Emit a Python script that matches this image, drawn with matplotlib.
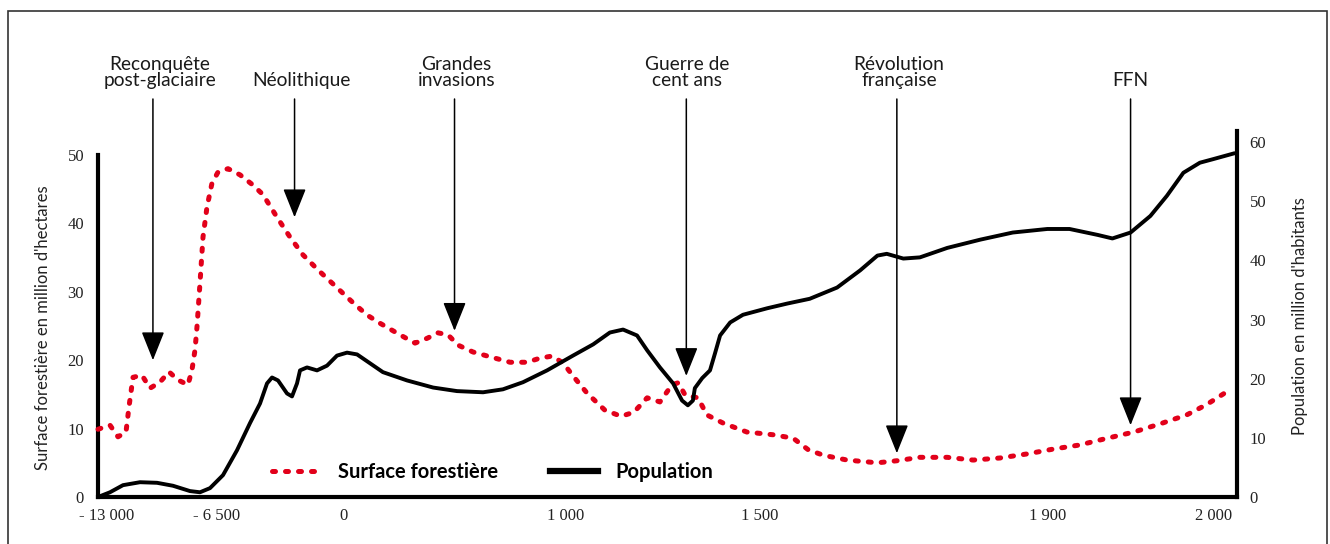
import numpy as np
import matplotlib
matplotlib.use("Agg")
import matplotlib.pyplot as plt
import matplotlib.transforms as mtransforms
from matplotlib.lines import Line2D
from matplotlib.patches import Rectangle

# ---------------- data ----------------
TICK_YEARS = [-13000, -6500, 0, 1000, 1500, 1900, 2000]
TICK_LABELS = ["- 13 000", "- 6 500", "0", "1 000", "1 500", "1 900", "2 000"]

FOREST_YEARS = [-13000, -12345, -11908, -11471, -11307, -11088, -10597, -10160, -9614, -9122,
                -8630, -8084, -7866, -7702, -7593, -7429, -7265, -7047, -6773, -6448,
                -5933, -5314, -4643, -4127, -3405, -2734, -2064, -1290, -310, 45,
                108, 166, 256, 323, 377, 426, 471, 516, 583, 659,
                749, 825, 883, 937, 987, 1018, 1054, 1100, 1142, 1175,
                1209, 1242, 1273, 1289, 1307, 1340, 1363, 1405, 1466, 1518,
                1546, 1567, 1588, 1621, 1663, 1690, 1722, 1760, 1796, 1833,
                1871, 1903, 1919, 1936, 1952, 1968, 1984, 1996, 2011]
FOREST_VALUES = [9.9, 10.5, 8.8, 9.5, 13.2, 17.5, 17.8, 15.9, 16.8, 18.3,
                 17.1, 16.4, 18.6, 21.5, 24.9, 31.3, 38.0, 42.4, 45.9, 47.5,
                 48.0, 47.1, 45.6, 44.2, 40.9, 38.0, 35.4, 33.2, 30.6, 28.4,
                 26.6, 25.4, 23.7, 22.5, 23.2, 24.0, 23.7, 22.2, 21.2, 20.5,
                 19.7, 19.7, 20.3, 20.6, 19.6, 17.7, 15.2, 12.7, 11.8, 12.4,
                 14.5, 13.9, 16.4, 16.7, 14.9, 14.5, 12.0, 10.8, 9.5, 9.1,
                 8.6, 6.9, 6.1, 5.4, 5.0, 5.3, 5.8, 5.8, 5.4, 5.7,
                 6.3, 7.0, 7.6, 8.6, 9.5, 10.7, 12.0, 13.5, 15.8]

POP_YEARS = [-13000, -12345, -11635, -10706, -9777, -8904, -7975, -7429, -6882, -6190,
             -5468, -4797, -4281, -3920, -3662, -3353, -2889, -2631, -2373, -2218,
             -1857, -1341, -825, -310, 18, 63, 121, 179, 287, 404,
             511, 628, 717, 807, 915, 1018, 1070, 1113, 1147, 1183,
             1209, 1242, 1276, 1299, 1314, 1327, 1332, 1351, 1371, 1384,
             1397, 1423, 1456, 1510, 1538, 1569, 1607, 1639, 1663, 1676,
             1699, 1722, 1760, 1806, 1851, 1899, 1913, 1930, 1939, 1950,
             1962, 1972, 1982, 1992, 2000, 2013]
POP_VALUES = [0, 0.8, 2.0, 2.5, 2.4, 1.9, 1.0, 0.8, 1.5, 3.7,
              7.9, 12.5, 15.8, 19.2, 20.2, 19.7, 17.5, 17.0, 19.2, 21.4,
              21.9, 21.4, 22.2, 23.9, 24.4, 24.1, 22.6, 21.1, 19.7, 18.5,
              17.9, 17.7, 18.2, 19.4, 21.4, 23.9, 25.8, 27.8, 28.3, 27.3,
              24.8, 21.9, 19.2, 16.3, 15.5, 16.3, 18.4, 20.1, 21.4, 24.3,
              27.3, 29.5, 30.8, 31.9, 32.7, 33.5, 35.4, 38.3, 40.8, 41.1,
              40.3, 40.5, 42.1, 43.5, 44.7, 45.3, 45.3, 44.3, 43.7, 44.7,
              47.5, 50.9, 54.8, 56.5, 57.1, 58.1]

EVENT_LABELS = ["Reconquête\npost-glaciaire", "Néolithique", "Grandes\ninvasions",
                "Guerre de\ncent ans", "Révolution\nfrançaise", "FFN"]
EVENT_YEARS = [-10000, -2500, 500, 1310, 1690, 1950]
EVENT_TIPS = [20.0, 40.9, 24.3, 17.7, 6.4, 10.5]

# ------------- non-linear (schematic) time axis -------------
AX_YEARS = np.array([-13000, -6500, 0, 1000, 1500, 1900, 2000], float)
AX_POS = np.array([0, 119, 245, 468, 662, 950, 1115], float)
S_LEFT = (AX_POS[1] - AX_POS[0]) / (AX_YEARS[1] - AX_YEARS[0])
S_RIGHT = (AX_POS[-1] - AX_POS[-2]) / (AX_YEARS[-1] - AX_YEARS[-2])


def fwd(x):
    x = np.asarray(x, float)
    y = np.interp(x, AX_YEARS, AX_POS)
    y = np.where(x < AX_YEARS[0], AX_POS[0] + (x - AX_YEARS[0]) * S_LEFT, y)
    y = np.where(x > AX_YEARS[-1], AX_POS[-1] + (x - AX_YEARS[-1]) * S_RIGHT, y)
    return y


def inv(p):
    p = np.asarray(p, float)
    y = np.interp(p, AX_POS, AX_YEARS)
    y = np.where(p < AX_POS[0], AX_YEARS[0] + (p - AX_POS[0]) / S_LEFT, y)
    y = np.where(p > AX_POS[-1], AX_YEARS[-1] + (p - AX_POS[-1]) / S_RIGHT, y)
    return y


RED = "#e2001a"
SANS = ["Lato", "DejaVu Sans"]
SERIF = ["Liberation Serif", "DejaVu Serif"]

W, H = 1330, 544
fig = plt.figure(figsize=(W / 100, H / 100), dpi=100)
L, R, T, B = 98, 1237, 131, 497
ax = fig.add_axes([L / W, 1 - B / H, (R - L) / W, (B - T) / H])
ax.set_xscale("function", functions=(fwd, inv))
ax.set_xlim(-13000, 2014.5)
ax.set_ylim(0, 50 * (B - T) / (B - 155))
ax2 = ax.twinx()
ax2.set_ylim(0, 60 * (B - T) / (B - 142))

# spines
for s in ["top", "right"]:
    ax.spines[s].set_visible(False)
for s in ["top", "left", "bottom"]:
    ax2.spines[s].set_visible(False)
ax.spines["left"].set_linewidth(3)
ax.spines["left"].set_bounds(0, 50)
ax.spines["bottom"].set_linewidth(3)
ax.spines["bottom"].set_capstyle("projecting")
ax2.spines["right"].set_linewidth(3)
ax2.spines["right"].set_capstyle("projecting")

ax.set_yticks([0, 10, 20, 30, 40, 50])
ax2.set_yticks([0, 10, 20, 30, 40, 50, 60])
ax.set_xticks(TICK_YEARS)
ax.set_xticklabels(TICK_LABELS)
ax.xaxis.set_minor_locator(matplotlib.ticker.NullLocator())
ax.tick_params(axis="y", length=0, pad=10, labelsize=12, labelcolor="#222")
ax.tick_params(axis="x", length=0, pad=8, labelsize=12, labelcolor="#222")
ax2.tick_params(axis="y", length=0, pad=9, labelsize=12, labelcolor="#222")
for lab in ax.get_xticklabels() + ax.get_yticklabels() + ax2.get_yticklabels():
    lab.set_fontfamily(SERIF)
# shift first label a bit right (as in reference)
first = ax.get_xticklabels()[0]
first.set_transform(first.get_transform() + mtransforms.ScaledTranslation(9 / 100, 0, fig.dpi_scale_trans))

# data lines
ax.plot(FOREST_YEARS, FOREST_VALUES, color=RED, lw=3.6, linestyle=(0, (0.6, 2.0)),
        dash_capstyle="round", clip_on=False, zorder=3)
ax2.plot(POP_YEARS, POP_VALUES, color="black", lw=2.8, solid_joinstyle="round",
         solid_capstyle="round", clip_on=False, zorder=3)

# axis titles
ax.text((43 - L) / (R - L), (B - 328) / (B - T), "Surface forestière en million d'hectares",
        rotation=90, ha="center", va="center", transform=ax.transAxes,
        fontsize=12, family=SANS, color="#222")
ax.text((1300 - L) / (R - L), (B - 316) / (B - T), "Population en million d'habitants",
        rotation=90, ha="center", va="center", transform=ax.transAxes,
        fontsize=12, family=SANS, color="#222")

# event arrows
blend = mtransforms.blended_transform_factory(ax.transData, ax.transAxes)
text_dx = [7, 7, 2, 1, 2, 0]
for lab, yr, tip, dx in zip(EVENT_LABELS, EVENT_YEARS, EVENT_TIPS, text_dx):
    ax.annotate("", xy=(yr, tip), xycoords="data",
                xytext=(yr, (B - 99) / (B - T)), textcoords=("data", "axes fraction"),
                arrowprops=dict(arrowstyle="-|>,head_length=1.8,head_width=0.72",
                                mutation_scale=10, color="black", lw=1.1,
                                shrinkA=0, shrinkB=0),
                annotation_clip=False, zorder=4)
    t = ax.text(yr, (B - 89) / (B - T), lab, transform=blend, ha="center", va="bottom",
                fontsize=13.8, family=SANS, color="#1a1a1a", linespacing=0.95)
    t.set_transform(blend + mtransforms.ScaledTranslation(dx / 100, 0, fig.dpi_scale_trans))

# legend
h1 = Line2D([], [], color=RED, lw=3.6, linestyle=(0, (0.6, 2.0)), dash_capstyle="round")
h2 = Line2D([], [], color="black", lw=4.5)
leg = ax2.legend([h1, h2], ["Surface forestière", "Population"], loc="center",
                 bbox_to_anchor=((493 - L) / (R - L), (B - 472) / (B - T)),
                 ncol=2, frameon=False, handlelength=2.35, handletextpad=0.9,
                 columnspacing=2.6, prop=dict(family=SANS, weight="bold", size=14.5))

# outer frame
fig.add_artist(Rectangle((8 / W, -0.05), (1327 - 8) / W, (H - 11) / H + 0.05,
                         transform=fig.transFigure, fill=False, lw=1.2, ec="#333"))

fig.savefig("out.png", dpi=100)
